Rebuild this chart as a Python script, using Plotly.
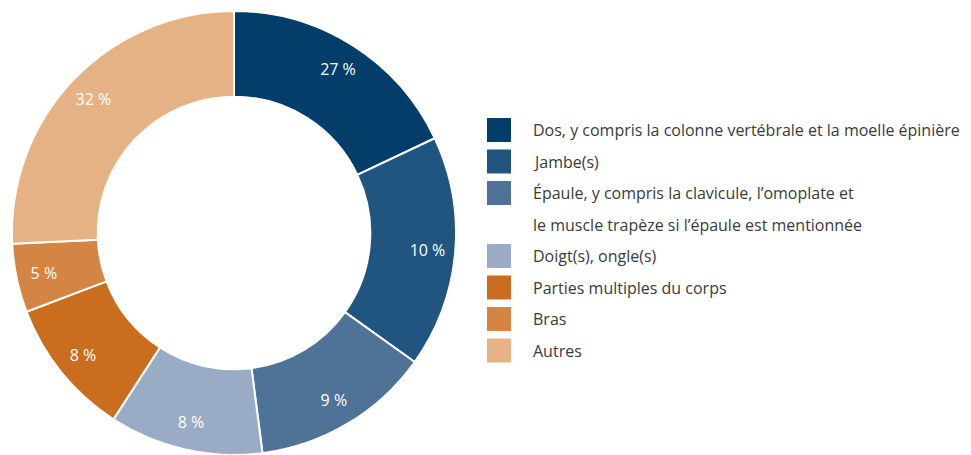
import plotly.graph_objects as go

# Data
categories = [
    "Dos, y compris la colonne vertébrale et la moelle épinière",
    "Jambe(s)",
    "Épaule, y compris la clavicule, l’omoplate et<br>le muscle trapèze si l’épaule est mentionnée",
    "Doigt(s), ongle(s)",
    "Parties multiples du corps",
    "Bras",
    "Autres",
]
# slice shares as drawn in the reference (estimated from angles)
slice_shares = [18.0, 16.9, 13.1, 11.2, 10.1, 5.0, 25.8]
pct_labels = ["27 %", "10 %", "9 %", "8 %", "8 %", "5 %", "32 %"]
colors = ["#033d69", "#20557f", "#4f7297", "#9aabc5", "#cb6d1e", "#d58543", "#e5b286"]

VW, VH = 971, 455          # browser viewport
OFF = 8                    # default page margin around the figure
W, H = VW - OFF, VH - OFF  # figure size
FONT = "Open Sans"


def px(x):
    return (x - OFF) / W


def py(y):
    return 1 - (y - OFF) / H


pie_dom = dict(x=[px(12), px(456)], y=[py(455), py(11)])

fig = go.Figure()
# coloured ring
fig.add_trace(go.Pie(
    labels=[c.replace("<br>", " ") for c in categories],
    values=slice_shares,
    textinfo="none",
    marker=dict(colors=colors, line=dict(color="white", width=2)),
    hole=0.614,
    sort=False,
    direction="clockwise",
    rotation=0,
    hoverinfo="skip",
    showlegend=False,
    domain=pie_dom,
))
# transparent ring carrying the percentage labels (placed in the outer part)
fig.add_trace(go.Pie(
    labels=[c.replace("<br>", " ") for c in categories],
    values=slice_shares,
    text=pct_labels,
    textinfo="text",
    textposition="inside",
    insidetextorientation="horizontal",
    textfont=dict(color="white", size=16, family=FONT),
    marker=dict(colors=["rgba(0,0,0,0)"] * len(colors), line=dict(width=0)),
    hole=0.75,
    sort=False,
    direction="clockwise",
    rotation=0,
    hoverinfo="skip",
    showlegend=False,
    domain=pie_dom,
))

# Manual legend (large square swatches)
shapes = []
annotations = []
row = 0
sq_x0, sq_size, text_x = 487, 24, 531
top0, step = 118, 31.5
for cat, col in zip(categories, colors):
    y0 = top0 + row * step
    shapes.append(dict(type="rect", xref="paper", yref="paper",
                       x0=px(sq_x0), x1=px(sq_x0 + sq_size),
                       y0=py(y0 + sq_size), y1=py(y0),
                       fillcolor=col, line=dict(width=0)))
    for i, line in enumerate(cat.split("<br>")):
        yc = y0 + sq_size / 2 + i * step
        annotations.append(dict(text=line, xref="paper", yref="paper",
                                x=px(text_x), y=py(yc), xanchor="left", yanchor="middle",
                                showarrow=False,
                                font=dict(family=FONT, size=16, color="#3a3a3a")))
        if i > 0:
            row += 1
    row += 1

fig.update_layout(
    width=W, height=H,
    margin=dict(l=0, r=0, t=0, b=0),
    paper_bgcolor="white",
    plot_bgcolor="white",
    shapes=shapes,
    annotations=annotations,
)

fig.write_html("out.html")
